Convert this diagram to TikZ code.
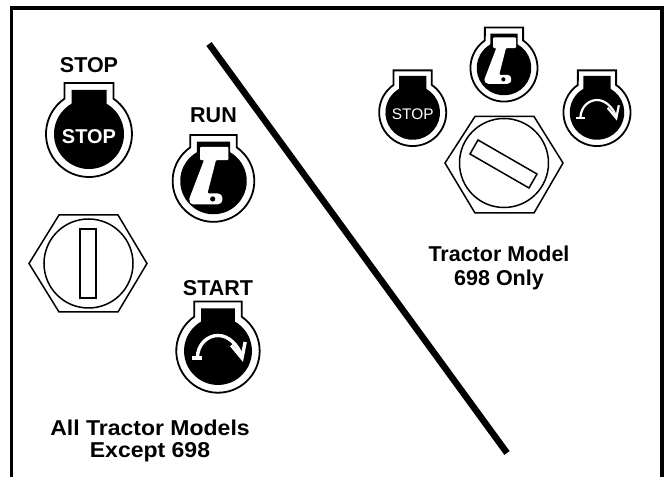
\documentclass[tikz,border=0pt]{standalone}
\usepackage{fontspec}
\setmainfont{Liberation Sans}
\newcommand{\lampbody}[2]{%
  \draw[outline] (-24.5,#1) -- (24.5,#1) -- (24.5,-35.3)
    arc[start angle=-55.2,end angle=235.2,radius=43] -- cycle;
  \fill[black] (-17.5,#2) -- (17.5,#2) -- (17.5,-30.3)
    arc[start angle=-60,end angle=240,radius=35] -- cycle;
}
\newcommand{\leverglyph}[2]{%
  \begin{scope}[yshift=#1,scale=#2]
  \fill[white,rounded corners=1pt] (-13.5,-34.3) -- (15,-34.3) -- (15,-21) -- (2.5,-21) -- (-6,12.3) -- (3.2,12.3)
    .. controls (7,12.3) and (9,15) .. (9,18) .. controls (9,21) and (7,23.5) .. (3.2,23.5)
    -- (-18.5,23.5) .. controls (-23,23.5) and (-25,20.5) .. (-24,17) -- (-9.5,-21) -- (-13.5,-21) -- cycle;
  \fill[black] (-0.8,18) circle[radius=2.6];
  \end{scope}
}
\newcommand{\startglyph}[1]{%
  \draw[white,line width=#1] (-27,7.3) -- (-16,7.3);
  \draw[white,line width=#1] (-21.3,7.3) .. controls (-21,-8) and (-10,-16) .. (0,-16) .. controls (11,-16) and (21,-6) .. (24.7,6);
  \draw[white,line width=#1,line join=miter] (13.7,-6) -- (24.7,7.3) -- (28,-9.3);
}
\tikzset{
  outline/.style={draw=black,line width=1.8pt,fill=white},
  hexnut/.style={draw=black,line width=1.5pt,fill=white},
  caption/.style={font=\fontsize{21.5}{22}\selectfont\bfseries,text=black,inner sep=0pt,align=center},
  lamplabel/.style={font=\fontsize{21.5}{22}\selectfont\bfseries,inner sep=0pt},
}
\begin{document}
\begin{tikzpicture}[x=1pt,y=-1pt]
\useasboundingbox (0,0) rectangle (665,478);
\fill[white] (0,0) rectangle (665,478);
\draw[line width=3.8pt] (11.5,477) -- (11.5,8.3) -- (662,8.3) -- (662,477);
\draw[line width=6.5pt] (209,44) -- (507,453);

% left group
\begin{scope}[shift={(89,134)}]
  \lampbody{-51}{-44}
  \node[inner sep=0pt,text=white,font=\fontsize{20}{22}\selectfont\bfseries] (stopbig) at (0,3) {STOP};
\end{scope}
\begin{scope}[shift={(213.5,181)},scale=.95]
  \lampbody{-48.5}{-41.5} \leverglyph{0pt}{1.05}
\end{scope}
\begin{scope}[shift={(218,351)},scale=.97]
  \lampbody{-51}{-44} \startglyph{3.4pt}
\end{scope}
\draw[hexnut] (29,263.5) -- (59,215) -- (118,215) -- (147,263.5) -- (118,312) -- (59,312) -- cycle;
\draw[hexnut] (88.5,263.5) circle[radius=44.5];
\draw[hexnut] (80,229) rectangle (96,298);

% right group
\begin{scope}[shift={(504,68)},scale=.78]
  \lampbody{-52}{-44} \leverglyph{4pt}{1.03}
\end{scope}
\begin{scope}[shift={(412.7,112.5)},scale=.78]
  \lampbody{-54}{-47}
  \node[inner sep=0pt,text=white,font=\fontsize{15.4}{17}\selectfont] (stopsmall) at (0,2) {STOP};
\end{scope}
\begin{scope}[shift={(597,112.5)},scale=.78]
  \lampbody{-54}{-47} \startglyph{2.2pt}
\end{scope}
\draw[hexnut] (445,163) -- (475,116.5) -- (534,116.5) -- (563,163) -- (534,213) -- (475,213) -- cycle;
\draw[hexnut] (504,163) circle[radius=44.5];
\draw[hexnut] (478,140) -- (537,174) -- (529,188) -- (470,154) -- cycle;

% labels
\node[lamplabel] (lstop) at (89,65) {STOP};
\node[lamplabel] (lrun) at (213.5,115) {RUN};
\node[lamplabel] (lstart) at (218,288) {START};
\node[caption,xscale=1.07] (lall) at (150,441) {All Tractor Models\\[0pt]Except 698};
\node[caption] (l698) at (499,268) {Tractor Model\\[2pt]698 Only};
\end{tikzpicture}
\end{document}
